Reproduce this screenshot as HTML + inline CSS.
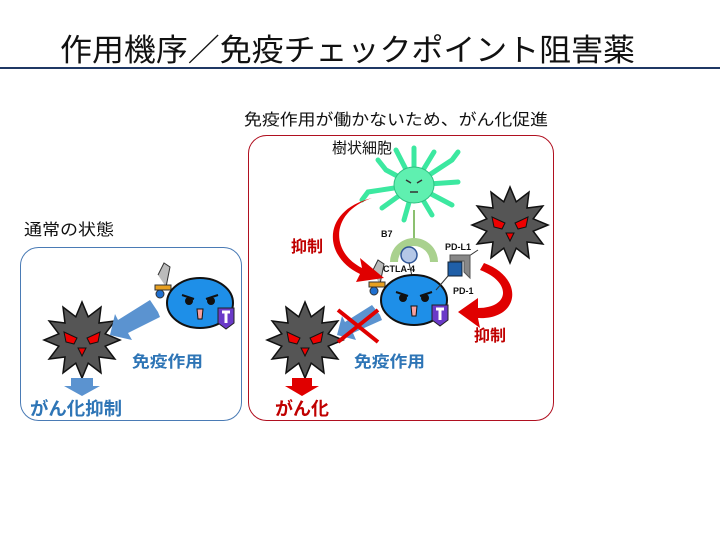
<!DOCTYPE html>
<html><head><meta charset="utf-8"><style>
html,body{margin:0;padding:0;background:#fff;}
svg{display:block;}
text{font-family:"Liberation Sans","Noto Sans CJK JP",sans-serif;}
</style></head><body>
<svg width="720" height="540" viewBox="0 0 720 540" xmlns="http://www.w3.org/2000/svg">
<defs>
<g id="cancer">
<polygon points="38,0 23.2,6.2 32.9,19 17,17 19,32.9 6.2,23.2 0,38 -6.2,23.2 -19,32.9 -17,17 -32.9,19 -23.2,6.2 -38,0 -23.2,-6.2 -32.9,-19 -17,-17 -19,-32.9 -6.2,-23.2 0,-38 6.2,-23.2 19,-32.9 17,-17 32.9,-19 23.2,-6.2" fill="#555" stroke="#111" stroke-width="1.5"/>
<path d="M-18,-8 L-5,-2 L-8,4 L-16,2 Z" fill="#e00" stroke="#111"/>
<path d="M18,-8 L5,-2 L8,4 L16,2 Z" fill="#e00" stroke="#111"/>
<path d="M-4,8 L4,8 L0,16 Z" fill="#e00" stroke="#111"/>
</g>
<g id="tcell">
<path d="M-42,-28 L-36,-40 L-30,-36 L-34,-16" fill="#bbb" stroke="#333"/>
<rect x="-45" y="-18" width="16" height="5" fill="#e8a020" stroke="#333"/>
<circle cx="-40" cy="-9" r="4" fill="#1e6fd0" stroke="#333"/>
<ellipse cx="0" cy="0" rx="33" ry="25" fill="#1e8fe8" stroke="#111" stroke-width="2"/>
<path d="M-18,-8 L-6,-4" stroke="#111" stroke-width="2"/>
<path d="M18,-8 L6,-4" stroke="#111" stroke-width="2"/>
<circle cx="-11" cy="-2" r="4" fill="#111"/>
<circle cx="11" cy="-2" r="4" fill="#111"/>
<path d="M-3,6 L3,6 L2,16 L-2,16 Z" fill="#f5a0a0" stroke="#111"/>
<path d="M18,5 L34,5 L34,20 L26,26 L18,20 Z" fill="#6a3ac8" stroke="#222"/>
<path d="M22,9 L30,9 M26,9 L26,20" stroke="#fff" stroke-width="3"/>
</g>
</defs>
<text x="60" y="61" font-size="31" fill="#111" textLength="575" lengthAdjust="spacingAndGlyphs">作用機序／免疫チェックポイント阻害薬</text>
<rect x="0" y="67" width="720" height="2" fill="#1f3864"/>
<text x="244" y="125" font-size="16" fill="#111" textLength="304" lengthAdjust="spacingAndGlyphs">免疫作用が働かないため、がん化促進</text>
<text x="24" y="235" font-size="16" fill="#111" textLength="90" lengthAdjust="spacingAndGlyphs">通常の状態</text>
<rect x="20.5" y="247.5" width="221" height="173" rx="18" fill="none" stroke="#4a7bb5" stroke-width="1"/>
<rect x="248.5" y="135.5" width="305" height="285" rx="18" fill="none" stroke="#b01020" stroke-width="1"/>
<!-- left panel -->
<use href="#cancer" x="82" y="340"/>
<path d="M158,312 L150,300 L118,320 L115,314 L110,335 L132,340 L128,333 L160,317 Z" fill="#5b93d0"/>
<use href="#tcell" x="200" y="303"/>
<text x="132" y="367" font-size="16" font-weight="bold" fill="#2e75b6" textLength="71" lengthAdjust="spacingAndGlyphs">免疫作用</text>
<path d="M71,378 L93,378 L93,386 L100,386 L82,396 L64,386 L71,386 Z" fill="#5b93d0"/>
<text x="30" y="415" font-size="18" font-weight="bold" fill="#2e75b6" textLength="92" lengthAdjust="spacingAndGlyphs">がん化抑制</text>
<!-- right panel -->
<text x="332" y="153" font-size="15" fill="#111" textLength="60" lengthAdjust="spacingAndGlyphs">樹状細胞</text>
<g stroke="#3ce8a0" stroke-width="5" stroke-linecap="round" fill="none">
<path d="M414,185 L414,148 M414,185 L396,150 M414,185 L434,152 M414,185 L452,160 L458,152 M414,185 L386,170 L378,160 M414,185 L368,192 L362,200 M414,185 L382,208 M414,185 L404,220 M414,185 L432,215 M414,185 L452,205 M414,185 L458,182"/>
</g>
<ellipse cx="414" cy="185" rx="20" ry="18" fill="#5ff0b0" stroke="#2cc080"/>
<path d="M406,180 L411,183 M422,180 L417,183 M410,192 L418,192" stroke="#333" stroke-width="1.5"/>
<line x1="414" y1="210" x2="414" y2="242" stroke="#8cc070" stroke-width="2"/>
<path d="M390,262 A24,24 0 0 1 438,262 L430,262 A16,16 0 0 0 398,262 Z" fill="#a9d18e"/>
<circle cx="409" cy="255" r="8" fill="#b4c7e7" stroke="#2f5597" stroke-width="1.5"/>
<line x1="409" y1="263" x2="412" y2="276" stroke="#333"/>
<text x="381" y="237" font-size="9" font-weight="bold" fill="#111">B7</text>
<text x="383" y="272" font-size="9" font-weight="bold" fill="#111">CTLA-4</text>
<use href="#tcell" x="414" y="300"/>
<use href="#cancer" x="510" y="225"/>
<line x1="478" y1="250" x2="466" y2="258" stroke="#333"/>
<path d="M450,255 L470,255 L470,278 L464,272 L464,261 L450,261 Z" fill="#888" stroke="#555"/>
<rect x="448" y="262" width="14" height="14" fill="#1f5fa8" stroke="#123"/>
<line x1="448" y1="276" x2="436" y2="290" stroke="#333"/>
<text x="445" y="250" font-size="9" font-weight="bold" fill="#111">PD-L1</text>
<text x="453" y="294" font-size="9" font-weight="bold" fill="#111">PD-1</text>
<path d="M372,198 C330,212 330,252 362,268 L360,258 L384,278 L356,282 L360,274 C322,256 322,210 372,198 Z" fill="#e00000"/>
<text x="291" y="252" font-size="16" font-weight="bold" fill="#c00000">抑制</text>
<path d="M484,263 C525,278 520,320 478,318 L480,328 L458,312 L478,298 L478,308 C510,308 512,282 480,270 Z" fill="#e00000"/>
<text x="474" y="341" font-size="16" font-weight="bold" fill="#c00000">抑制</text>
<use href="#cancer" x="305" y="340"/>
<path d="M380,315 L372,305 L345,322 L342,316 L337,335 L356,340 L353,333 L382,320 Z" fill="#5b93d0"/>
<path d="M338,310 L378,342 M378,310 L338,342" stroke="#e00000" stroke-width="4"/>
<text x="354" y="367" font-size="16" font-weight="bold" fill="#2e75b6" textLength="71" lengthAdjust="spacingAndGlyphs">免疫作用</text>
<path d="M292,378 L312,378 L312,386 L319,386 L302,396 L285,386 L292,386 Z" fill="#e00000"/>
<text x="275" y="415" font-size="18" font-weight="bold" fill="#c00000">がん化</text>
</svg>
</body></html>
